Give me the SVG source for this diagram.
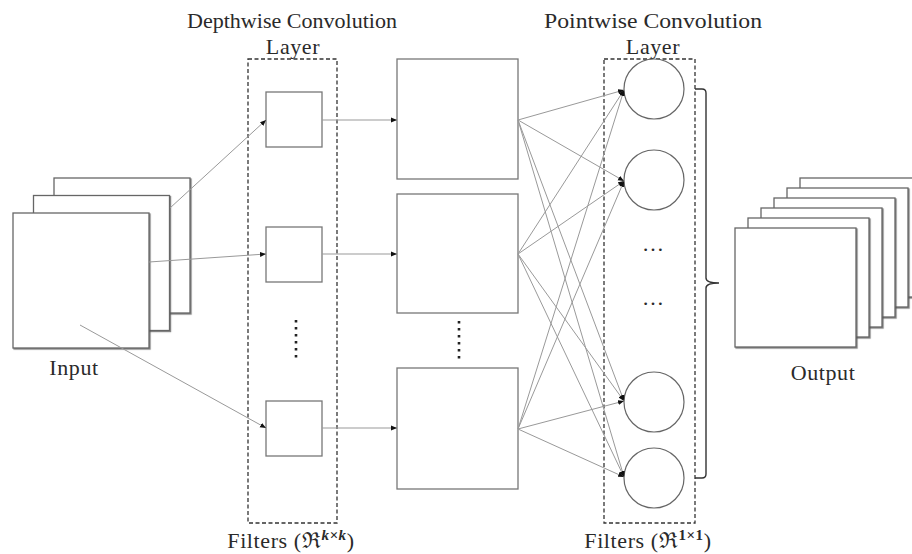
<svg xmlns="http://www.w3.org/2000/svg" width="912" height="554" viewBox="0 0 912 554">
  <style>
    .lbl { font-family: "Liberation Serif", "DejaVu Serif", serif; font-size: 22px; fill: #2a2a2a; }
    .cap { letter-spacing: 0.6px; }
    .map { fill: #fff; stroke: #666; stroke-width: 1.3; }
    .box { fill: #fff; stroke: #777; stroke-width: 1.3; }
    .node { fill: #fff; stroke: #666; stroke-width: 1.2; }
    .frame { fill: none; stroke: #333; stroke-width: 1.3; stroke-dasharray: 4 2.5; }
    .vdots { stroke: #222; stroke-width: 2.6; stroke-dasharray: 2.4 4.6; }
    .edge { fill: none; stroke: #999; stroke-width: 1; }
    .arrow { marker-end: url(#head); }
    .brace { fill: none; stroke: #333; stroke-width: 1.4; }
  </style>
  <defs>
    <marker id="head" markerUnits="userSpaceOnUse" markerWidth="7" markerHeight="6" refX="6" refY="3" orient="auto">
      <path d="M0,0.5 L6,3 L0,5.5 z" fill="#111"/>
    </marker>
    <filter id="shade" x="-5%" y="-5%" width="115%" height="115%">
      <feDropShadow dx="1.1" dy="1.1" stdDeviation="0.5" flood-color="#555" flood-opacity="0.7"/>
    </filter>
  </defs>
  <rect width="912" height="554" fill="#fff"/>

  <!-- input feature maps -->
  <g id="input">
    <rect class="map" x="54" y="178" width="136" height="135" filter="url(#shade)"/>
    <rect class="map" x="33.5" y="195.5" width="136" height="135" filter="url(#shade)"/>
    <rect class="map" x="13" y="213" width="136" height="135" filter="url(#shade)"/>
    <text class="lbl cap" x="74" y="375" text-anchor="middle">Input</text>
  </g>

  <!-- depthwise filters -->
  <g id="depthwise-layer">
    <text class="lbl" x="292" y="28" text-anchor="middle" textLength="210" lengthAdjust="spacingAndGlyphs">Depthwise Convolution</text>
    <text class="lbl cap" x="293" y="54" text-anchor="middle">Layer</text>
    <rect class="frame" x="248" y="59" width="89" height="464"/>
    <text class="lbl cap" x="291" y="548" text-anchor="middle">Filters (<tspan>ℜ</tspan><tspan font-size="15" font-style="italic" font-weight="bold" dy="-8">k×k</tspan><tspan dy="8">)</tspan></text>
  </g>
  <g id="dw-filter-1"><rect class="box" x="266" y="92" width="56" height="55"/></g>
  <g id="dw-filter-2"><rect class="box" x="266" y="227" width="56" height="55"/></g>
  <g id="dw-filter-n"><rect class="box" x="266" y="401" width="56" height="55"/></g>
  <line class="vdots" x1="296" y1="320" x2="296" y2="358"/>

  <!-- intermediate maps -->
  <g id="dw-out-1"><rect class="box" x="397" y="59" width="121" height="120"/></g>
  <g id="dw-out-2"><rect class="box" x="397" y="194" width="121" height="119"/></g>
  <g id="dw-out-n"><rect class="box" x="397" y="368" width="121" height="121"/></g>
  <line class="vdots" x1="459" y1="321" x2="459" y2="359"/>

  <!-- pointwise filters -->
  <g id="pointwise-layer">
    <text class="lbl" x="653" y="28" text-anchor="middle" textLength="218" lengthAdjust="spacingAndGlyphs">Pointwise Convolution</text>
    <text class="lbl cap" x="653" y="54" text-anchor="middle">Layer</text>
    <rect class="frame" x="604" y="59" width="91" height="464"/>
    <text class="lbl cap" x="648" y="548" text-anchor="middle">Filters (<tspan>ℜ</tspan><tspan font-size="15" font-weight="bold" dy="-8">1×1</tspan><tspan dy="8">)</tspan></text>
    <text class="lbl" x="653" y="251" text-anchor="middle" font-size="16">…</text>
    <text class="lbl" x="653" y="305" text-anchor="middle" font-size="16">…</text>
  </g>
  <g id="pw-filter-1"><circle class="node" cx="654" cy="89" r="30"/></g>
  <g id="pw-filter-2"><circle class="node" cx="654" cy="180" r="30"/></g>
  <g id="pw-filter-3"><circle class="node" cx="654" cy="402" r="30"/></g>
  <g id="pw-filter-4"><circle class="node" cx="654" cy="478" r="30"/></g>

  <!-- brace collecting the pointwise outputs -->
  <path class="brace" d="M695,89 H702 Q706,89 706,93 V278 Q706,283 719,283 Q706,283 706,288 V474 Q706,478 702,478 H695"/>

  <!-- output feature maps -->
  <g id="output">
    <rect class="map" x="800" y="178" width="121" height="119" filter="url(#shade)"/>
    <rect class="map" x="787" y="188" width="121" height="119" filter="url(#shade)"/>
    <rect class="map" x="774" y="198" width="121" height="119" filter="url(#shade)"/>
    <rect class="map" x="761" y="208" width="121" height="119" filter="url(#shade)"/>
    <rect class="map" x="748" y="218" width="121" height="119" filter="url(#shade)"/>
    <rect class="map" x="735" y="228" width="121" height="119" filter="url(#shade)"/>
    <text class="lbl cap" x="823" y="380" text-anchor="middle">Output</text>
  </g>

  <!-- connectors -->
  <g id="connectors">
    <line class="edge arrow" x1="170" y1="208" x2="266" y2="120"/>
    <line class="edge arrow" x1="149" y1="262" x2="266" y2="254"/>
    <line class="edge arrow" x1="80" y1="325" x2="266" y2="428"/>

    <line class="edge arrow" x1="322" y1="120" x2="397" y2="120"/>
    <line class="edge arrow" x1="322" y1="254" x2="397" y2="254"/>
    <line class="edge arrow" x1="322" y1="428" x2="397" y2="428"/>

    <line class="edge arrow" x1="518" y1="120" x2="624" y2="90"/>
    <line class="edge arrow" x1="518" y1="120" x2="624" y2="181"/>
    <line class="edge arrow" x1="518" y1="120" x2="624" y2="401"/>
    <line class="edge arrow" x1="518" y1="120" x2="624" y2="477"/>

    <line class="edge arrow" x1="518" y1="254" x2="624" y2="90"/>
    <line class="edge arrow" x1="518" y1="254" x2="624" y2="181"/>
    <line class="edge arrow" x1="518" y1="254" x2="624" y2="401"/>
    <line class="edge arrow" x1="518" y1="254" x2="624" y2="477"/>

    <line class="edge arrow" x1="518" y1="429" x2="624" y2="90"/>
    <line class="edge arrow" x1="518" y1="429" x2="624" y2="181"/>
    <line class="edge arrow" x1="518" y1="429" x2="624" y2="401"/>
    <line class="edge arrow" x1="518" y1="429" x2="624" y2="477"/>
  </g>
</svg>
